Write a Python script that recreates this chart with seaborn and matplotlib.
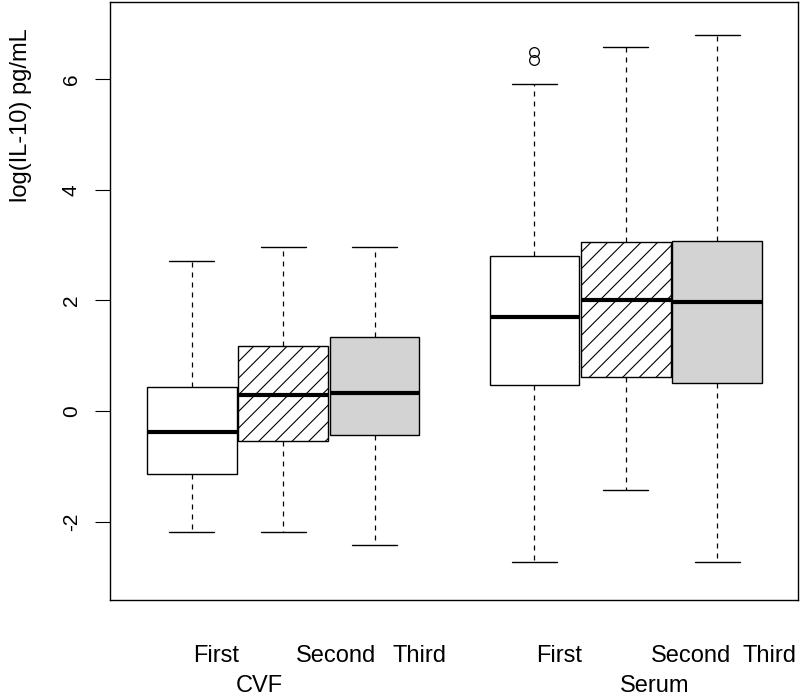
import numpy as np
import matplotlib
matplotlib.use("Agg")
import matplotlib.pyplot as plt
import seaborn as sns

# five-number summaries (log IL-10, pg/mL)
groups = ["CVF", "CVF", "CVF", "Serum", "Serum", "Serum"]
visits = ["First", "Second", "Third", "First", "Second", "Third"]
whisk_lo = [-2.19, -2.19, -2.42, -2.73, -1.43, -2.73]
q1 = [-1.14, -0.54, -0.43, 0.47, 0.61, 0.51]
med = [-0.38, 0.29, 0.33, 1.70, 2.01, 1.97]
q3 = [0.43, 1.18, 1.34, 2.80, 3.06, 3.08]
whisk_hi = [2.72, 2.97, 2.97, 5.91, 6.58, 6.80]
outliers = [[], [], [], [6.35, 6.49], [], []]

sns.set_style("white")
plt.rcParams['font.family'] = ['Liberation Sans', 'DejaVu Sans']
plt.rcParams['text.color'] = 'black'
plt.rcParams['ytick.color'] = 'black'
plt.rcParams['hatch.linewidth'] = 0.8

positions = [1, 2, 3, 4.75, 5.75, 6.75]
fills = ["white", "white", "#d3d3d3", "white", "white", "#d3d3d3"]
hatches = ["", "//", "", "", "//", ""]

stats = []
for i in range(len(visits)):
    stats.append({"label": visits[i], "whislo": whisk_lo[i], "q1": q1[i], "med": med[i],
                  "q3": q3[i], "whishi": whisk_hi[i], "fliers": outliers[i]})

fig = plt.figure(figsize=(8, 6.99), dpi=100)
ax = fig.add_axes([0.1375, 0.1416, 0.86, 0.8555])

bp = ax.bxp(stats, positions=positions, widths=0.98, patch_artist=True,
            boxprops=dict(linewidth=1.0, edgecolor="black"),
            medianprops=dict(color="black", linewidth=3.0, solid_capstyle="butt"),
            whiskerprops=dict(color="black", linewidth=0.9, linestyle=(0, (4, 4))),
            capprops=dict(color="black", linewidth=1.0),
            capwidths=0.49,
            flierprops=dict(marker="o", markerfacecolor="none", markeredgecolor="black",
                            markersize=7, markeredgewidth=0.9))
for patch, fc, h in zip(bp["boxes"], fills, hatches):
    patch.set_facecolor(fc)
    patch.set_hatch(h)

ax.set_xlim(0.104, 7.635)
ax.set_ylim(-3.42, 7.40)
ax.set_xticks([])
ax.set_yticks([-2, 0, 2, 4, 6])
ax.set_yticklabels(["-2", "0", "2", "4", "6"], rotation=90, va="center", fontsize=15)
ax.tick_params(axis="y", left=True, length=11, width=0.8, pad=10, colors="black")
for s in ax.spines.values():
    s.set_linewidth(1.0)
    s.set_color("black")

# y label sits high on the axis, as in the original
ax.text(-0.87, 5.35, "log(IL-10) pg/mL", rotation=90, ha="center", va="center",
        fontsize=17, clip_on=False)

# x labels placed the way the original figure had them
label_x = [1.27, 2.58, 3.49, 5.02, 6.46, 7.32]
for x, t in zip(label_x, visits):
    ax.text(x, -4.54, t, ha="center", va="baseline", fontsize=17, clip_on=False)
ax.text(1.74, -5.08, "CVF", ha="center", va="baseline", fontsize=17, clip_on=False)
ax.text(6.07, -5.08, "Serum", ha="center", va="baseline", fontsize=17, clip_on=False)

plt.savefig("out.png", dpi=100)
